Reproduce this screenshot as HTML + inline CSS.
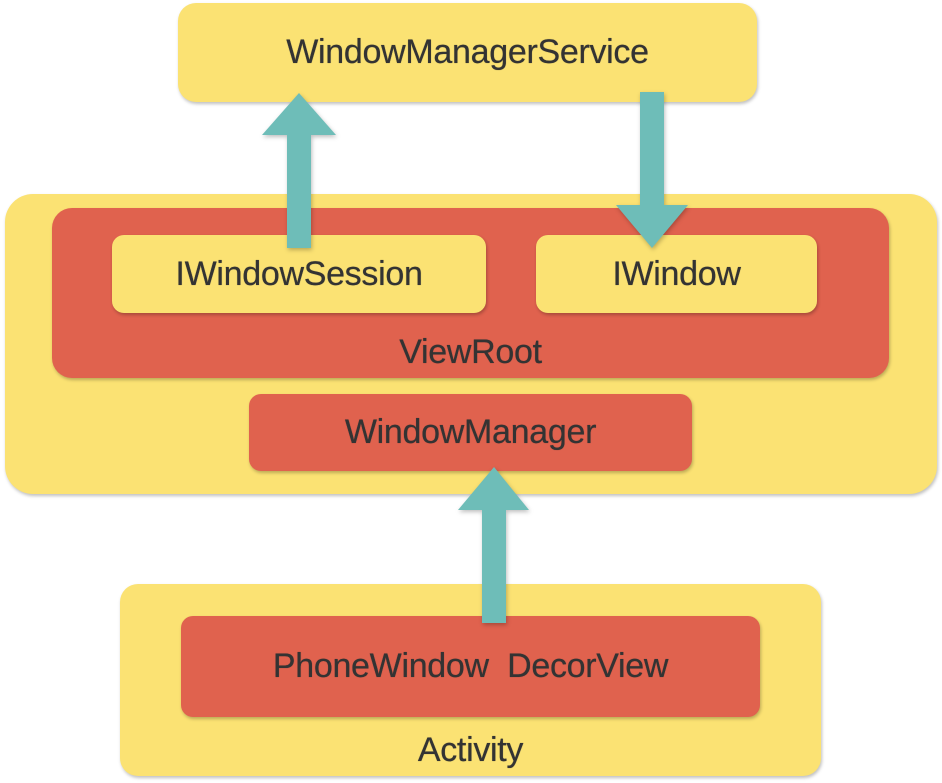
<!DOCTYPE html>
<html><head><style>
body{margin:0;width:942px;height:783px;background:#fff;position:relative;overflow:hidden;font-family:"Liberation Sans",sans-serif;}
.b{position:absolute;box-sizing:border-box;display:flex;align-items:center;justify-content:center;color:#333;font-size:34px;letter-spacing:-0.3px;text-shadow:0 0 0.6px #333;box-shadow:1px 2px 3px rgba(0,0,0,0.25);}
.y{background:#FBE273}.r{background:#E0624E}
.l{position:absolute;color:#333;font-size:34px;letter-spacing:-0.3px;text-shadow:0 0 0.6px #333;text-align:center;}
</style></head><body>
<div class="b y" style="left:178px;top:3px;width:579px;height:99px;border-radius:18px;">WindowManagerService</div>
<div class="b y" style="left:5px;top:194px;width:932px;height:300px;border-radius:28px;"></div>
<div class="b r" style="left:52px;top:208px;width:837px;height:170px;border-radius:20px;"></div>
<div class="l" style="left:52px;width:837px;top:333px;">ViewRoot</div>
<div class="b y" style="left:112px;top:235px;width:374px;height:78px;border-radius:12px;">IWindowSession</div>
<div class="b y" style="left:536px;top:235px;width:281px;height:78px;border-radius:12px;">IWindow</div>
<div class="b r" style="left:249px;top:394px;width:443px;height:77px;border-radius:12px;">WindowManager</div>
<div class="b y" style="left:120px;top:584px;width:701px;height:192px;border-radius:18px;"></div>
<div class="b r" style="left:181px;top:616px;width:579px;height:101px;border-radius:12px;">PhoneWindow&nbsp;&nbsp;DecorView</div>
<div class="l" style="left:120px;width:701px;top:731px;">Activity</div>
<svg width="942" height="783" style="position:absolute;left:0;top:0" >
<g fill="#6EBDB8" style="filter:drop-shadow(1px 2px 2px rgba(0,0,0,0.25))">
<polygon points="287,248 311,248 311,135 336,135 299,93 262,135 287,135"/>
<polygon points="640,92 664,92 664,205 688,205 652,248 616,205 640,205"/>
<polygon points="482,623 506,623 506,510 529,510 494,467 458,510 482,510"/>
</g></svg>
</body></html>
